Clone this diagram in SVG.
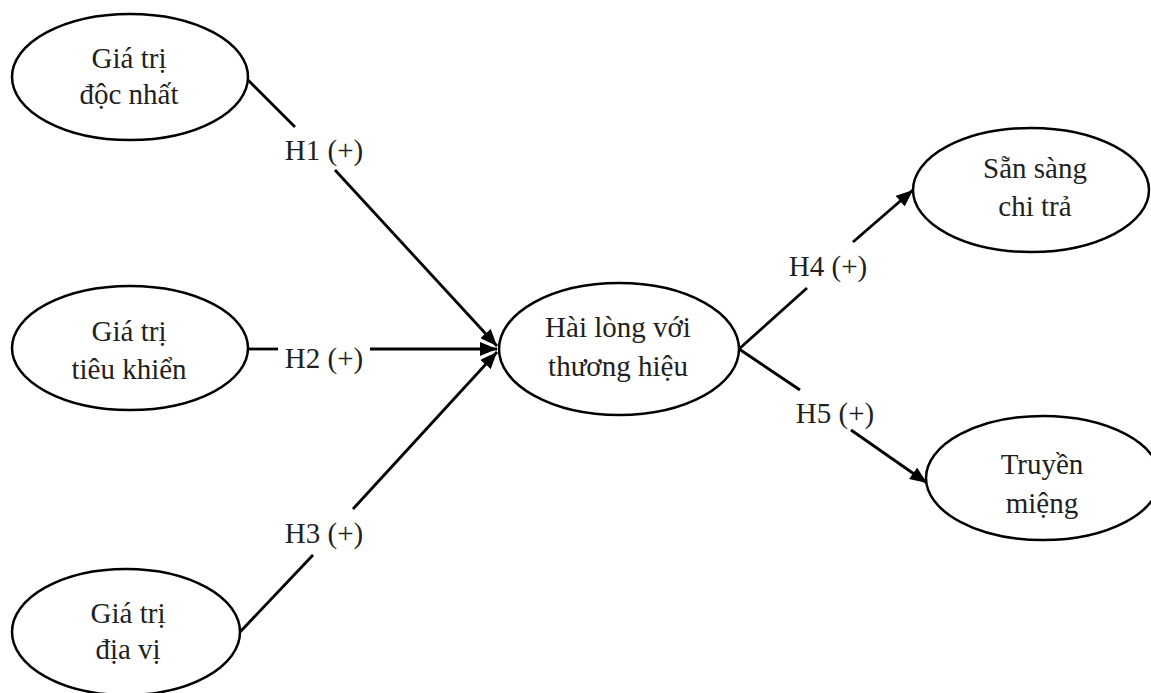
<svg xmlns="http://www.w3.org/2000/svg" width="1151" height="693" viewBox="0 0 1151 693">
<defs>
<style>
.n{fill:#fff;stroke:#000;stroke-width:2.5}
.t{font-family:'Liberation Serif','Times New Roman','DejaVu Serif',serif;font-size:29px;fill:#231f20;text-anchor:middle}
.c{stroke:#000;stroke-width:2.8;fill:none}
.a{marker-end:url(#ah)}
</style>
<marker id="ah" markerUnits="userSpaceOnUse" markerWidth="18" markerHeight="14" refX="17" refY="7" orient="auto">
<path d="M0,0 L17,7 L0,14 Z" fill="#000"/>
</marker>
</defs>
<rect width="1151" height="693" fill="#fff"/>
<g id="connectors">
<line class="c" x1="248" y1="80" x2="295" y2="127"/>
<line class="c a" x1="335" y1="170" x2="497" y2="346"/>
<line class="c" x1="248" y1="349" x2="278" y2="349"/>
<line class="c a" x1="370" y1="349" x2="497" y2="349"/>
<line class="c" x1="240" y1="632" x2="313" y2="555"/>
<line class="c a" x1="353" y1="509" x2="497" y2="352"/>
<line class="c" x1="739" y1="349" x2="807" y2="288"/>
<line class="c a" x1="853" y1="242" x2="913" y2="190"/>
<line class="c" x1="739" y1="349" x2="800" y2="390"/>
<line class="c a" x1="851" y1="430" x2="927" y2="483"/>
<text class="t" x="324" y="160">H1 (+)</text>
<text class="t" x="324" y="368">H2 (+)</text>
<text class="t" x="324" y="543">H3 (+)</text>
<text class="t" x="828" y="276">H4 (+)</text>
<text class="t" x="835" y="423">H5 (+)</text>
</g>
<g id="n1">
<ellipse class="n" cx="130" cy="77" rx="118" ry="63"/>
<text class="t" x="129" y="68">Giá trị</text>
<text class="t" x="129" y="104">độc nhất</text>
</g>
<g id="n2">
<ellipse class="n" cx="130" cy="348" rx="118" ry="62"/>
<text class="t" x="129" y="341">Giá trị</text>
<text class="t" x="129" y="379">tiêu khiển</text>
</g>
<g id="n3">
<ellipse class="n" cx="126" cy="632" rx="114" ry="63"/>
<text class="t" x="128" y="623">Giá trị</text>
<text class="t" x="128" y="659">địa vị</text>
</g>
<g id="n4">
<ellipse class="n" cx="619" cy="349" rx="120" ry="66"/>
<text class="t" x="618" y="337">Hài lòng với</text>
<text class="t" x="618" y="376">thương hiệu</text>
</g>
<g id="n5">
<ellipse class="n" cx="1031" cy="190" rx="118" ry="62"/>
<text class="t" x="1035" y="178">Sẵn sàng</text>
<text class="t" x="1035" y="216">chi trả</text>
</g>
<g id="n6">
<ellipse class="n" cx="1043" cy="478" rx="117" ry="62"/>
<text class="t" x="1042" y="474">Truyền</text>
<text class="t" x="1042" y="513">miệng</text>
</g>
</svg>
